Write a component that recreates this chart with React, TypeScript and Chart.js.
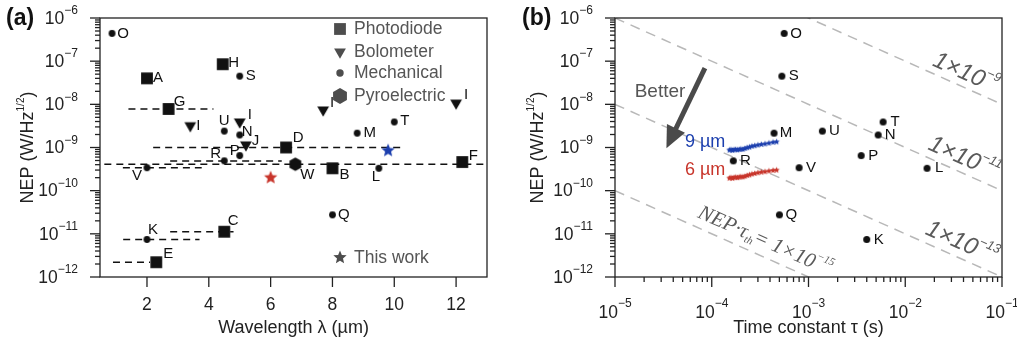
import React, { useEffect, useRef } from 'react';
import { Chart, registerables } from 'chart.js';

Chart.register(...registerables);

// ---------------- Panel (a): NEP vs wavelength ----------------
const photodiodeNames = ['A', 'H', 'G', 'D', 'B', 'F', 'C', 'E'];
const photodiodeWavelength = [2.0, 4.45, 2.7, 6.5, 8.0, 12.2, 4.5, 2.3];
const photodiodeNEP = [4.0e-8, 8.5e-8, 7.8e-9, 1.0e-9, 3.3e-10, 4.6e-10, 1.12e-11, 2.2e-12];

const bolometerNames = ['I', 'I', 'J', 'I', 'I'];
const bolometerWavelength = [3.4, 5.0, 5.2, 7.7, 12.0];
const bolometerNEP = [3.2e-9, 3.9e-9, 1.15e-9, 7.4e-9, 1.07e-8];

const mechanicalNames = ['O', 'S', 'U', 'N', 'R', 'P', 'V', 'M', 'T', 'L', 'Q', 'K'];
const mechanicalWavelength = [0.87, 5.0, 4.5, 5.0, 4.5, 5.0, 2.0, 8.8, 10.0, 9.5, 8.0, 2.0];
const mechanicalNEP = [4.4e-7, 4.5e-8, 2.4e-9, 1.95e-9, 4.9e-10, 6.5e-10, 3.4e-10, 2.15e-9, 3.9e-9, 3.3e-10, 2.75e-11, 7.4e-12];

const pyroNames = ['W'];
const pyroWavelength = [6.8];
const pyroNEP = [4.1e-10];

const thisWorkWavelength = [6.0, 9.8];
const thisWorkNEP = [2.0e-10, 8.5e-10];

// broadband ranges (dashed)
const bandStart = [1.4, 0.62, 2.2, 2.75, 1.22, 2.75, 1.23, 0.9];
const bandEnd = [4.15, 12.95, 10.3, 6.36, 3.77, 4.8, 3.7, 2.1];
const bandNEP = [7.8e-9, 4.1e-10, 1.0e-9, 4.85e-10, 3.4e-10, 1.12e-11, 7.4e-12, 2.2e-12];

const wavelengthTicks = [2, 4, 6, 8, 10, 12];
const nepTickExponents = [-12, -11, -10, -9, -8, -7, -6];
const legendNames = ['Photodiode', 'Bolometer', 'Mechanical', 'Pyroelectric'];

// ---------------- Panel (b): NEP vs time constant ----------------
const tauNames = ['O', 'S', 'M', 'U', 'T', 'N', 'P', 'V', 'L', 'R', 'Q', 'K'];
const tauValues = [5.6e-4, 5.3e-4, 4.4e-4, 1.39e-3, 5.9e-3, 5.25e-3, 3.5e-3, 8.0e-4, 1.68e-2, 1.67e-4, 5.0e-4, 4.0e-3];
const tauNEP = [4.4e-7, 4.5e-8, 2.15e-9, 2.4e-9, 3.9e-9, 1.95e-9, 6.5e-10, 3.4e-10, 3.3e-10, 4.9e-10, 2.75e-11, 7.4e-12];

const curveTau = [1.52e-4, 1.58e-4, 1.64e-4, 1.70e-4, 1.77e-4, 1.84e-4, 1.92e-4, 2.0e-4, 2.1e-4, 2.2e-4,
  2.32e-4, 2.45e-4, 2.6e-4, 2.78e-4, 3.0e-4, 3.25e-4, 3.55e-4, 3.9e-4, 4.3e-4, 4.68e-4];
const curveNEP9um = [8.7e-10, 8.9e-10, 8.6e-10, 8.9e-10, 9.0e-10, 8.8e-10, 9.0e-10, 9.2e-10, 9.1e-10, 9.5e-10,
  9.9e-10, 1.02e-9, 1.07e-9, 1.10e-9, 1.14e-9, 1.18e-9, 1.21e-9, 1.26e-9, 1.32e-9, 1.35e-9];
const curveNEP6um = [1.95e-10, 2.0e-10, 1.93e-10, 2.02e-10, 2.05e-10, 2.0e-10, 2.06e-10, 2.1e-10, 2.08e-10, 2.15e-10,
  2.25e-10, 2.32e-10, 2.42e-10, 2.5e-10, 2.6e-10, 2.68e-10, 2.75e-10, 2.85e-10, 2.95e-10, 3.0e-10];

const fomConstants = [1e-9, 1e-11, 1e-13, 1e-15];
const fomExponents = ['\u22129', '\u221211', '\u221213', '\u221215'];
const fomLabelTau = [0.0422, 0.0405, 0.0383, 3.55e-4];
const fomLabelNEP = [5.25e-8, 5.65e-10, 6.1e-12, 6.7e-12];
const tauTickExponents = [-5, -4, -3, -2, -1];

const arrowTau = [8.5e-5, 3.4e-5];
const arrowNEP = [6.9e-8, 9.6e-10];
const betterTau = 2.92e-5;
const betterNEP = 1.97e-8;

// ---------------- styles ----------------
const SANS = '"Liberation Sans", Arial, Helvetica, sans-serif';
const SERIF = '"Liberation Serif", "Times New Roman", serif';
const AXIS = '#222';
const RED = '#c8352b';
const BLUE = '#1c3fae';
const LEG = '#4d4d4d';

const photodiodeOffsets = [[11, 0], [11, -1], [11, -7], [12, -10], [12, 7], [11, -6], [9, -11], [12, -8]];
const bolometerOffsets = [[8, 0], [10, -7], [9.5, -4], [9, -7], [10, -8]];
const mechanicalOffsets = [[11, 0], [11, 0], [0, -10], [7.5, -3.5], [-8.5, -7.5], [-5, -5], [-10, 8], [12.5, 0], [10.5, -1.5], [-3, 9], [11.5, 0], [6, -10]];
const pyroOffsets = [[12, 11]];
const tauOffsets = tauNames.map(() => [12, 0]);

type Part = { t: string; s?: 'sup' | 'sub' };
interface RichOpts { family?: string; style?: string; color?: string; supSize?: number; supRise?: number; subDrop?: number; }

function drawRich(ctx: CanvasRenderingContext2D, parts: Part[], x: number, y: number,
  align: 'left' | 'center' | 'right', size: number, o: RichOpts = {}) {
  const family = o.family ?? SANS;
  const style = o.style ?? '';
  const supSize = o.supSize ?? size * 0.65;
  const supRise = o.supRise ?? size * 0.45;
  const subDrop = o.subDrop ?? size * 0.3;
  const fontFor = (p: Part) => `${style} ${p.s ? supSize : size}px ${family}`.trim();
  let total = 0;
  const widths = parts.map((p) => { ctx.font = fontFor(p); const w = ctx.measureText(p.t).width; total += w; return w; });
  let cx = align === 'left' ? x : align === 'center' ? x - total / 2 : x - total;
  ctx.fillStyle = o.color ?? '#222';
  ctx.textBaseline = 'middle';
  ctx.textAlign = 'left';
  parts.forEach((p, i) => {
    ctx.font = fontFor(p);
    const dy = p.s === 'sup' ? -supRise : p.s === 'sub' ? subDrop : 0;
    ctx.fillText(p.t, cx, y + dy);
    cx += widths[i];
  });
}

function seg(ctx: CanvasRenderingContext2D, x1: number, y1: number, x2: number, y2: number) {
  ctx.beginPath(); ctx.moveTo(x1, y1); ctx.lineTo(x2, y2); ctx.stroke();
}

type Shape = 'square' | 'triDown' | 'dot' | 'hex' | 'star';
function pathShape(g: CanvasRenderingContext2D, kind: Shape, cx: number, cy: number, r: number) {
  g.beginPath();
  if (kind === 'square') g.rect(cx - r, cy - r, 2 * r, 2 * r);
  else if (kind === 'dot') g.arc(cx, cy, r, 0, Math.PI * 2);
  else {
    const n = kind === 'triDown' ? 3 : kind === 'hex' ? 6 : 10;
    for (let i = 0; i < n; i++) {
      let ang: number; let rr = r;
      if (kind === 'triDown') ang = Math.PI / 2 + (i * 2 * Math.PI) / 3;
      else if (kind === 'hex') ang = -Math.PI / 2 + (i * Math.PI) / 3;
      else { ang = -Math.PI / 2 + (i * Math.PI) / 5; rr = i % 2 ? r * 0.45 : r; }
      const px = cx + rr * Math.cos(ang); const py = cy + rr * Math.sin(ang);
      if (i === 0) g.moveTo(px, py); else g.lineTo(px, py);
    }
    g.closePath();
  }
  g.fill();
}
function shapeImage(kind: Shape, r: number, color: string) {
  const size = Math.ceil(2 * r + 2);
  const c = document.createElement('canvas');
  c.width = size; c.height = size;
  const g = c.getContext('2d')!;
  g.fillStyle = color;
  pathShape(g, kind, size / 2, size / 2, r);
  return c;
}

function drawFrameAndYAxis(ctx: CanvasRenderingContext2D, a: any, y: any, titleX: number) {
  ctx.strokeStyle = AXIS; ctx.lineWidth = 1.3;
  ctx.strokeRect(a.left, a.top, a.right - a.left, a.bottom - a.top);
  const top = nepTickExponents[nepTickExponents.length - 1];
  nepTickExponents.forEach((e) => {
    const v = Math.pow(10, e);
    const py = y.getPixelForValue(v);
    seg(ctx, a.left - 10, py, a.left, py);
    drawRich(ctx, [{ t: '10' }, { t: '\u2212' + Math.abs(e), s: 'sup' }], a.left - 22, py + 1, 'right', 17.5, { supSize: 12, supRise: 8 });
    if (e < top) for (let k = 2; k <= 9; k++) { const pm = y.getPixelForValue(k * v); seg(ctx, a.left - 5, pm, a.left, pm); }
  });
  ctx.save();
  ctx.translate(titleX, (a.top + a.bottom) / 2);
  ctx.rotate(-Math.PI / 2);
  drawRich(ctx, [{ t: 'NEP (W/Hz' }, { t: '1/2', s: 'sup' }, { t: ')' }], 0, 0, 'center', 18, { supSize: 10, supRise: 7 });
  ctx.restore();
}

function drawPointLabels(chart: any, ctx: CanvasRenderingContext2D) {
  chart.data.datasets.forEach((ds: any, i: number) => {
    if (!ds.names) return;
    const meta = chart.getDatasetMeta(i);
    meta.data.forEach((pt: any, j: number) => {
      const [dx, dy] = ds.nameOffsets[j];
      drawRich(ctx, [{ t: ds.names[j] }], pt.x + dx, pt.y + dy, 'center', 15, { color: '#111' });
    });
  });
}

const panelAPlugin = {
  id: 'panelA',
  afterDraw(chart: any) {
    const { ctx, chartArea: a, scales: { x, y } } = chart;
    ctx.save();
    drawFrameAndYAxis(ctx, a, y, 28);
    wavelengthTicks.forEach((v) => {
      const px = x.getPixelForValue(v);
      seg(ctx, px, a.bottom, px, a.bottom + 10);
      drawRich(ctx, [{ t: String(v) }], px, a.bottom + 28, 'center', 17.5);
    });
    drawRich(ctx, [{ t: 'Wavelength \u03bb (\u00b5m)' }], (a.left + a.right) / 2, 328, 'center', 18);
    drawRich(ctx, [{ t: '(a)' }], 6, 19, 'left', 23, { style: 'bold', color: '#111' });
    drawPointLabels(chart, ctx);
    // legend
    const shapes: Shape[] = ['square', 'triDown', 'dot', 'hex'];
    const radii = [5.9, 6.8, 3.7, 8];
    const rows = [11, 34, 55, 78];
    legendNames.forEach((name, i) => {
      ctx.fillStyle = LEG;
      pathShape(ctx, shapes[i], a.left + 240, a.top + rows[i], radii[i]);
      drawRich(ctx, [{ t: name }], a.left + 254, a.top + rows[i], 'left', 17.5, { color: '#555' });
    });
    ctx.fillStyle = LEG;
    pathShape(ctx, 'star', a.left + 240, a.top + 239.5, 7);
    drawRich(ctx, [{ t: 'This work' }], a.left + 254, a.top + 240, 'left', 17.5, { color: '#555' });
    ctx.restore();
  },
};

const panelBPlugin = {
  id: 'panelB',
  afterDraw(chart: any) {
    const { ctx, chartArea: a, scales: { x, y } } = chart;
    ctx.save();
    drawFrameAndYAxis(ctx, a, y, 30);
    const last = tauTickExponents[tauTickExponents.length - 1];
    tauTickExponents.forEach((e) => {
      const v = Math.pow(10, e);
      const px = x.getPixelForValue(v);
      seg(ctx, px, a.bottom, px, a.bottom + 10);
      drawRich(ctx, [{ t: '10' }, { t: '\u2212' + Math.abs(e), s: 'sup' }], px, a.bottom + 36, 'center', 17.5, { supSize: 12, supRise: 9 });
      if (e < last) for (let k = 2; k <= 9; k++) { const pm = x.getPixelForValue(k * v); seg(ctx, pm, a.bottom, pm, a.bottom + 5); }
    });
    drawRich(ctx, [{ t: 'Time constant \u03c4 (s)' }], (a.left + a.right) / 2, 328, 'center', 18);
    drawRich(ctx, [{ t: '(b)' }], 14, 19, 'left', 23, { style: 'bold', color: '#111' });
    drawPointLabels(chart, ctx);

    // figure-of-merit line labels
    const ang = Math.atan2(
      y.getPixelForValue(1e-10) - y.getPixelForValue(1e-9),
      x.getPixelForValue(1e-4) - x.getPixelForValue(1e-5));
    fomConstants.forEach((c, i) => {
      ctx.save();
      ctx.translate(x.getPixelForValue(fomLabelTau[i]), y.getPixelForValue(fomLabelNEP[i]));
      ctx.rotate(ang);
      if (i < 3) {
        drawRich(ctx, [{ t: '1\u00d710' }, { t: fomExponents[i], s: 'sup' }], 0, 0, 'center', 24,
          { style: 'italic', color: '#5a5a5a', supSize: 13, supRise: 9 });
      } else {
        drawRich(ctx, [{ t: 'NEP\u00b7\u03c4' }, { t: 'th', s: 'sub' }, { t: '= 1\u00d710' }, { t: fomExponents[i], s: 'sup' }], 0, 0, 'center', 21,
          { style: 'italic', family: SERIF, color: '#5a5a5a', supSize: 11, supRise: 8, subDrop: 6 });
      }
      ctx.restore();
    });

    // "Better" arrow
    const sx = x.getPixelForValue(arrowTau[0]), sy = y.getPixelForValue(arrowNEP[0]);
    const tx = x.getPixelForValue(arrowTau[1]), ty = y.getPixelForValue(arrowNEP[1]);
    const L = Math.hypot(tx - sx, ty - sy);
    const ux = (tx - sx) / L, uy = (ty - sy) / L;
    const bx = tx - ux * 22, by = ty - uy * 22;
    ctx.strokeStyle = '#4a4a4a'; ctx.lineWidth = 5;
    seg(ctx, sx, sy, bx + ux * 2, by + uy * 2);
    ctx.fillStyle = '#4a4a4a';
    ctx.beginPath();
    ctx.moveTo(tx, ty);
    ctx.lineTo(bx - uy * 10, by + ux * 10);
    ctx.lineTo(bx + uy * 10, by - ux * 10);
    ctx.closePath(); ctx.fill();
    drawRich(ctx, [{ t: 'Better' }], x.getPixelForValue(betterTau), y.getPixelForValue(betterNEP), 'center', 19, { color: '#555' });

    // curve labels
    chart.data.datasets.forEach((ds: any, i: number) => {
      if (!ds.curveName) return;
      const p0 = chart.getDatasetMeta(i).data[0];
      drawRich(ctx, [{ t: ds.curveName }], p0.x - 4, p0.y - 8.5, 'right', 18, { color: ds.borderColor });
    });
    ctx.restore();
  },
};

const pts = (xs: number[], ys: number[]) => xs.map((v, i) => ({ x: v, y: ys[i] }));

function baseOptions(yWidth: number, padRight: number, xScale: any) {
  return {
    animation: false as const,
    responsive: false,
    devicePixelRatio: 1,
    events: [] as any[],
    layout: { padding: { top: 18, right: padRight, left: 0, bottom: 0 } },
    plugins: { legend: { display: false }, tooltip: { enabled: false } },
    scales: {
      x: { ...xScale, ticks: { display: false }, grid: { display: false }, border: { display: false }, afterFit: (s: any) => { s.height = 64; } },
      y: { type: 'logarithmic', min: 1e-12, max: 1e-6, ticks: { display: false }, grid: { display: false }, border: { display: false }, afterFit: (s: any) => { s.width = yWidth; } },
    },
  };
}

function makeChartA(canvas: HTMLCanvasElement) {
  const markerDs = (data: any, img: HTMLCanvasElement, names?: string[], offsets?: number[][]) => ({
    data, pointStyle: img, pointRadius: 5, pointHoverRadius: 5, showLine: false, order: 0,
    backgroundColor: '#111', borderColor: '#111', names, nameOffsets: offsets,
  });
  const bands = bandNEP.map((v, i) => ({
    data: [{ x: bandStart[i], y: v }, { x: bandEnd[i], y: v }],
    showLine: true, pointRadius: 0, borderColor: '#111', borderWidth: 1.6, borderDash: [7, 5], fill: false, order: 5,
  }));
  return new Chart(canvas, {
    type: 'scatter',
    data: {
      datasets: [
        markerDs(pts(photodiodeWavelength, photodiodeNEP), shapeImage('square', 5.9, '#111'), photodiodeNames, photodiodeOffsets),
        markerDs(pts(bolometerWavelength, bolometerNEP), shapeImage('triDown', 6.8, '#111'), bolometerNames, bolometerOffsets),
        markerDs(pts(mechanicalWavelength, mechanicalNEP), shapeImage('dot', 3.4, '#111'), mechanicalNames, mechanicalOffsets),
        markerDs(pts(pyroWavelength, pyroNEP), shapeImage('hex', 6.8, '#111'), pyroNames, pyroOffsets),
        markerDs([{ x: thisWorkWavelength[0], y: thisWorkNEP[0] }], shapeImage('star', 7, RED)),
        markerDs([{ x: thisWorkWavelength[1], y: thisWorkNEP[1] }], shapeImage('star', 7, BLUE)),
        ...bands,
      ] as any,
    },
    options: baseOptions(100, 21, { type: 'linear', min: 0.48, max: 13 }) as any,
    plugins: [panelAPlugin],
  });
}

function makeChartB(canvas: HTMLCanvasElement) {
  const fomLines = fomConstants.map((c) => ({
    data: [{ x: 1e-5, y: c / 1e-5 }, { x: 1e-1, y: c / 1e-1 }],
    showLine: true, pointRadius: 0, borderColor: '#b8b8b8', borderWidth: 1.5, borderDash: [10, 7], fill: false, order: 10,
  }));
  const curve = (ys: number[], color: string, name: string) => ({
    data: pts(curveTau, ys), showLine: true, borderColor: color, borderWidth: 0.8, pointStyle: shapeImage('star', 3.3, color),
    pointRadius: 3, pointHoverRadius: 3, fill: false, order: 2, curveName: name,
  });
  return new Chart(canvas, {
    type: 'scatter',
    data: {
      datasets: [
        { data: pts(tauValues, tauNEP), pointStyle: shapeImage('dot', 3.5, '#111'), pointRadius: 5, showLine: false, order: 0,
          names: tauNames, nameOffsets: tauOffsets },
        curve(curveNEP9um, BLUE, '9 \u00b5m'),
        curve(curveNEP6um, RED, '6 \u00b5m'),
        ...fomLines,
      ] as any,
    },
    options: baseOptions(107, 15, { type: 'logarithmic', min: 1e-5, max: 1e-1 }) as any,
    plugins: [panelBPlugin],
  });
}

export default function App() {
  const refA = useRef<HTMLCanvasElement>(null);
  const refB = useRef<HTMLCanvasElement>(null);
  useEffect(() => {
    const ca = makeChartA(refA.current!);
    const cb = makeChartB(refB.current!);
    return () => { ca.destroy(); cb.destroy(); };
  }, []);
  return (
    <div style={{ position: 'fixed', left: 0, top: 0, width: 1017, height: 341, background: '#fff', overflow: 'hidden' }}>
      <canvas ref={refA} width={508} height={341} style={{ position: 'absolute', left: 0, top: 0, width: 508, height: 341 }} />
      <canvas ref={refB} width={509} height={341} style={{ position: 'absolute', left: 508, top: 0, width: 509, height: 341 }} />
    </div>
  );
}
